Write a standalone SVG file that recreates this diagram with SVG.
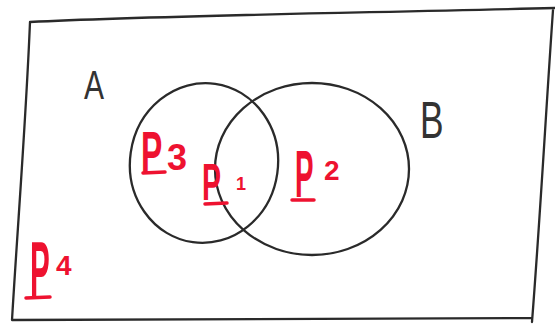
<svg xmlns="http://www.w3.org/2000/svg" width="555" height="324" viewBox="0 0 555 324">
<style>
.ink{fill:none;stroke:#2a2a2a;stroke-width:2.3;stroke-linecap:round;stroke-linejoin:round}
.lbl{font-family:"Liberation Sans",Arial,sans-serif;fill:#333}
.red{font-family:"Liberation Sans",Arial,sans-serif;fill:#ee1230;font-weight:bold}
.ul{stroke:#ee1230;stroke-width:3.5;stroke-linecap:round}
</style>
<rect width="555" height="324" fill="#ffffff"/>
<g id="universe">
<path class="ink" d="M30,22 C150,16 300,14 555,8 M30,22 C26,120 18,220 12,320 M12,320 C200,318 380,320 532,318 M553,10 C546,110 540,220 532,322"/>
</g>
<g id="set-A">
<ellipse class="ink" cx="204" cy="163" rx="74" ry="80" transform="rotate(8 204 163)"/>
<text class="lbl" x="84" y="99" font-size="40" font-weight="300" transform="translate(84 99) scale(0.75 1) translate(-84 -99)">A</text>
</g>
<g id="set-B">
<ellipse class="ink" cx="312" cy="169" rx="97" ry="86"/>
<text class="lbl" x="420" y="138" font-size="52" font-weight="300" transform="translate(420 138) scale(0.68 1) translate(-420 -138)">B</text>
</g>
<g id="p3">
<text class="red" font-size="58" transform="translate(141 172) scale(0.55 1)">P</text>
<text class="red" x="167" y="170" font-size="36">3</text>
<line class="ul" x1="143" y1="173" x2="165" y2="172"/>
</g>
<g id="p1">
<text class="red" font-size="52" transform="translate(202 200) scale(0.55 1)">P</text>
<text class="red" x="236" y="190" font-size="18">1</text>
<line class="ul" x1="205" y1="204" x2="227" y2="203"/>
</g>
<g id="p2">
<text class="red" font-size="66" transform="translate(295 197) scale(0.42 1)">P</text>
<text class="red" x="324" y="180" font-size="28">2</text>
<line class="ul" x1="292" y1="200" x2="314" y2="200"/>
</g>
<g id="p4">
<text class="red" font-size="78" transform="translate(30 296) scale(0.38 1)">P</text>
<text class="red" x="56" y="275" font-size="28">4</text>
<line class="ul" x1="26" y1="298" x2="50" y2="297"/>
</g>
</svg>
